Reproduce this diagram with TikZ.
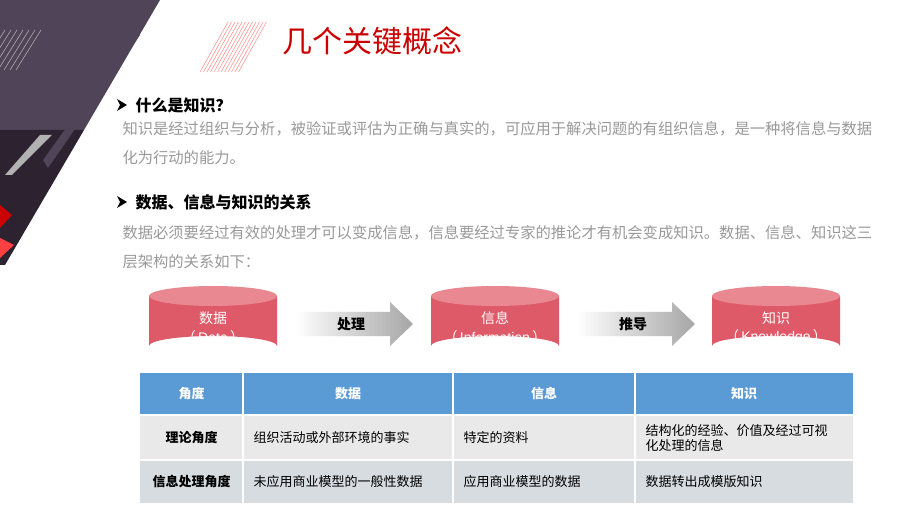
\documentclass[tikz,border=0pt]{standalone}
\usepackage{fontspec}
\setmainfont{Noto Sans CJK SC}
\newfontfamily\lat{Liberation Sans}
\begin{document}
\begin{tikzpicture}[x=1pt,y=-1pt,
  hdr/.style={font=\fontsize{16}{18}\selectfont\bfseries,anchor=west},
  body/.style={font=\fontsize{15.3}{29}\selectfont,text=gray!80,anchor=north west,align=left},
  cell/.style={font=\fontsize{13}{15}\selectfont,anchor=west,align=left},
  bcell/.style={font=\fontsize{13}{15}\selectfont\bfseries},
  arrowlab/.style={font=\fontsize{14}{16}\selectfont\bfseries},
  cyltxt/.style={text=white,font=\fontsize{14}{16}\selectfont,inner sep=0pt},
  bullet/.style={fill=black}]
\definecolor{cylred}{HTML}{DE5A68}
\definecolor{cyltop}{HTML}{E98891}
\definecolor{pur}{HTML}{504558}
\definecolor{dpur}{HTML}{2C2230}
\definecolor{hblue}{HTML}{5B9BD5}
\definecolor{r1}{HTML}{E9E9E9}
\definecolor{r2}{HTML}{D6DCE0}
\useasboundingbox (0,0) rectangle (920,518);
\fill[white] (0,0) rectangle (920,518);
% decoration top-left
\foreach \i in {0,...,14} \draw[gray!40,line width=0.6] (60+6*\i,0) -- (10+6*\i,80);
\fill[pur] (0,0) -- (160,0) -- (84,130) -- (0,130) -- cycle;
\fill[dpur] (0,130) -- (84,130) -- (5,265) -- (0,265) -- cycle;
\fill[pur] (133,35) -- (140,35) -- (48,168) -- (43,160) -- cycle;
\fill[gray!60] (40,135) -- (52,135) -- (12,175) -- (5,175) -- cycle;
\foreach \i in {0,...,6} \draw[gray!55,line width=0.5] (5+6*\i,30) -- (-20+6*\i,70);
\fill[red!80!black] (0,205) -- (12,215) -- (0,228) -- cycle;
\fill[red!75] (0,238) -- (14,245) -- (0,258) -- cycle;
% red hatch
\foreach \i in {0,...,11} \draw[red!45,line width=0.5] (228+3.5*\i,22) -- (200+3.5*\i,72);
% title
\node[text=red!80!black,font=\fontsize{30}{32}\selectfont,anchor=west] (title) at (279,41) {几个关键概念};
% bullets
\fill[bullet] (117,99) -- (127,105) -- (117,111) -- (120,105) -- cycle;
\fill[bullet] (117,196) -- (127,202) -- (117,208) -- (120,202) -- cycle;
\node[hdr] (h1) at (132,105) {什么是知识？};
\node[body] (b1) at (119,118) {知识是经过组织与分析，被验证或评估为正确与真实的，可应用于解决问题的有组织信息，是一种将信息与数据\\化为行动的能力。};
\node[hdr] (h2) at (132,202) {数据、信息与知识的关系};
\node[body] (b2) at (119,222) {数据必须要经过有效的处理才可以变成信息，信息要经过专家的推论才有机会变成知识。数据、信息、知识这三\\层架构的关系如下：};
% cylinders
\foreach \cx/\nm/\t/\e in {213/c1/数据/Data,495/c2/信息/Information,776/c3/知识/Knowledge}{
  \fill[cylred] (\cx-64,296) -- (\cx-64,346) arc[x radius=64,y radius=10,start angle=180,end angle=360] -- (\cx+64,296) -- cycle;
  \fill[cyltop] (\cx,296) ellipse[x radius=64,y radius=10];
}
\foreach \cx/\nm/\t/\e in {213/c1/数据/Data,495/c2/信息/Information,776/c3/知识/Knowledge}{
  \node[cyltxt] (\nm) at (\cx,318) {\t};
  \node[cyltxt] (\nm e) at (\cx,337) {（{\lat\,\e\,}）};
}
% arrows
\foreach \x/\nm/\t in {295/a1/处理,577/a2/推导}{
  \shade[left color=white,right color=gray!70] (\x,312) -- (\x+95,312) -- (\x+95,302) -- (\x+118,324) -- (\x+95,346) -- (\x+95,336) -- (\x,336) -- cycle;
  \node[arrowlab] (\nm) at (\x+56,324) {\t};
}
% table
\fill[hblue] (140,373) rectangle (853,415);
\fill[r1] (140,415) rectangle (853,460);
\fill[r2] (140,460) rectangle (853,503);
\draw[white,line width=1.2] (140,415) -- (853,415) (140,460) -- (853,460);
\foreach \x in {243,453,635} \draw[white,line width=1.2] (\x,373) -- (\x,503);
\foreach \x/\t/\n in {191.5/角度/t1,348/数据/t2,544/信息/t3,744/知识/t4}
  \node[bcell,text=white] (\n) at (\x,394) {\t};
\node[bcell] (r1a) at (191.5,438) {理论角度};
\node[bcell] (r2a) at (191.5,482) {信息处理角度};
\node[cell] (r1b) at (250,438) {组织活动或外部环境的事实};
\node[cell] (r1c) at (460,438) {特定的资料};
\node[cell] (r1d) at (642,438) {结构化的经验、价值及经过可视\\化处理的信息};
\node[cell] (r2b) at (250,482) {未应用商业模型的一般性数据};
\node[cell] (r2c) at (460,482) {应用商业模型的数据};
\node[cell] (r2d) at (642,482) {数据转出成模版知识};
\end{tikzpicture}
\end{document}
